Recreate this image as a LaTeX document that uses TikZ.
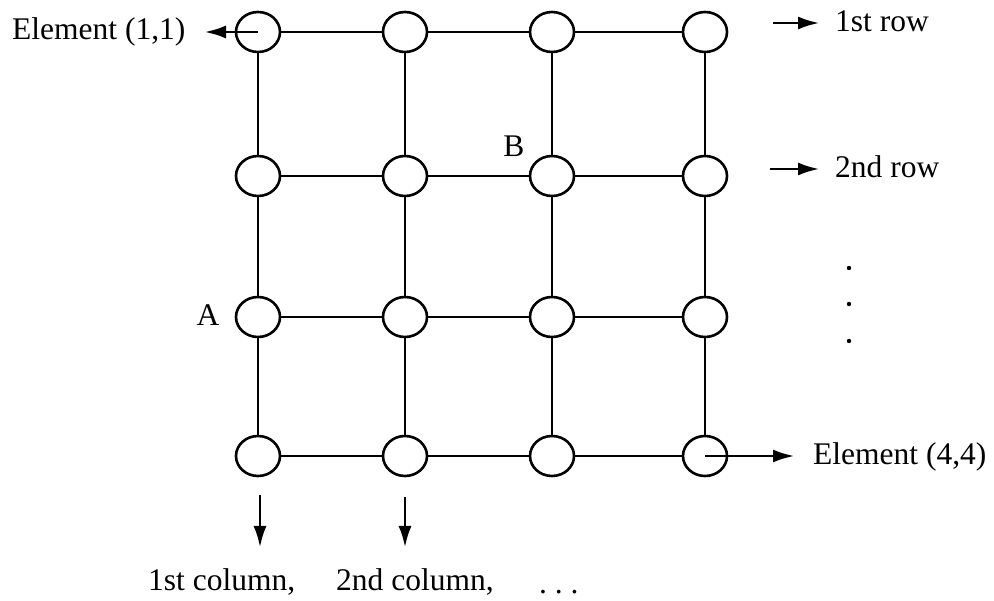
\documentclass[tikz,border=0pt]{standalone}
\usepackage{fontspec}
\setmainfont{Liberation Serif}
\usetikzlibrary{shapes.geometric,arrows.meta}
\begin{document}
\begin{tikzpicture}[x=1pt,y=-1pt,
  cell/.style={ellipse,draw,line width=2.6pt,minimum width=44pt,minimum height=40pt,inner sep=0pt},
  link/.style={line width=2.3pt},
  arr/.style={line width=2.3pt,-{Latex[length=21pt,width=13pt]}},
  lbl/.style={font=\fontsize{31.5}{36}\selectfont,inner sep=0pt}]
\useasboundingbox (0,0) rectangle (994,601);

% the 4x4 array of elements
\foreach \r/\y in {1/32,2/176,3/317,4/456}{
  \foreach \c/\x in {1/258,2/405,3/552,4/705}{
    \node[cell] (n\r\c) at (\x,\y) {};
  }
}
% row and column links
\foreach \r in {1,2,3,4}{
  \draw[link] (n\r1) -- (n\r2);
  \draw[link] (n\r2) -- (n\r3);
  \draw[link] (n\r3) -- (n\r4);
}
\foreach \c in {1,2,3,4}{
  \draw[link] (n1\c) -- (n2\c);
  \draw[link] (n2\c) -- (n3\c);
  \draw[link] (n3\c) -- (n4\c);
}

% corner element labels
\node[lbl,anchor=base west] (e11) at (12,40) {Element (1,1)};
\coordinate (t11) at (205,32);
\draw[arr] (n11.center) -- (t11);
\node[lbl,anchor=base west] (e44) at (813,465) {Element (4,4)};
\coordinate (t44) at (794,456);
\draw[arr] (n44.center) -- (t44);

% node markers
\node[lbl,anchor=base] (la) at (208,326) {A};
\node[lbl,anchor=base] (lb) at (514,157) {B};

% row labels
\coordinate (r1a) at (773,23);
\coordinate (r1b) at (819,23);
\draw[arr] (r1a) -- (r1b);
\node[lbl,anchor=base west] (row1) at (835,32) {1st row};
\coordinate (r2a) at (770,169);
\coordinate (r2b) at (819,169);
\draw[arr] (r2a) -- (r2b);
\node[lbl,anchor=base west] (row2) at (835,178) {2nd row};
\foreach \y in {268,304,341}{
  \fill (849,\y) circle (2.2pt);
}

% column labels
\coordinate (c1a) at (260,495);
\coordinate (c1b) at (260,547);
\draw[arr] (c1a) -- (c1b);
\coordinate (c2a) at (405,497);
\coordinate (c2b) at (405,547);
\draw[arr] (c2a) -- (c2b);
\node[lbl,anchor=base west] (col1) at (148,590) {1st column,};
\node[lbl,anchor=base west] (col2) at (336,590) {2nd column,};
\node[lbl,anchor=base west] (cdots) at (539,593) {.\ .\ .};
\end{tikzpicture}
\end{document}
